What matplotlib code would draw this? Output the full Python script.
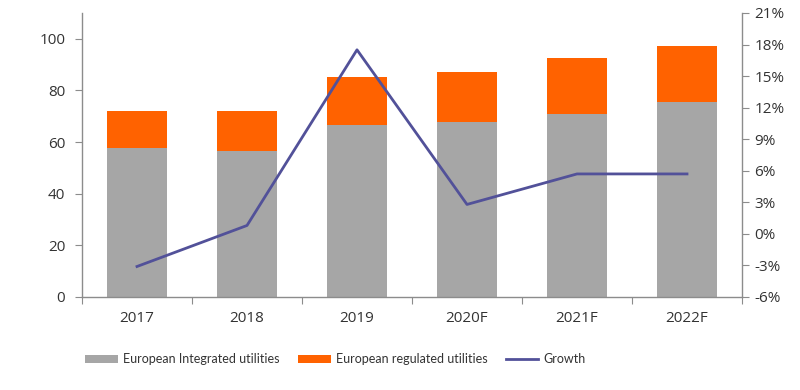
"""European utilities: integrated vs regulated, with growth line."""

import matplotlib

matplotlib.use("Agg")
import matplotlib.pyplot as plt
from matplotlib.ticker import FixedLocator, FuncFormatter

YEARS = ["2017", "2018", "2019", "2020F", "2021F", "2022F"]
INTEGRATED = [57.7, 56.6, 66.7, 67.7, 71.0, 75.6]
REGULATED = [14.5, 15.6, 18.7, 19.6, 21.5, 21.8]
GROWTH = [-3.1, 0.8, 17.5, 2.8, 5.7, 5.7]

GREY = "#A6A6A6"
ORANGE = "#FF6200"
INDIGO = "#525199"
SPINE = "#8C8C8C"
TEXT = "#333333"

plt.rcParams["font.family"] = ["Open Sans", "DejaVu Sans"]

fig = plt.figure(figsize=(8, 3.9), dpi=100)
ax = fig.add_axes([82 / 800, 1 - 297 / 390, (742 - 82) / 800, (297 - 13) / 390])
x = list(range(len(YEARS)))

b1 = ax.bar(x, INTEGRATED, width=0.545, color=GREY, label="European Integrated utilities")
b2 = ax.bar(x, REGULATED, width=0.545, bottom=INTEGRATED, color=ORANGE,
            label="European regulated utilities")

ax.set_xlim(-0.5, len(YEARS) - 0.5)
ax.set_ylim(0, 110)
ax.set_yticks(range(0, 101, 20))
ax.xaxis.set_major_locator(FixedLocator([i - 0.5 for i in range(len(YEARS) + 1)]))
ax.xaxis.set_major_formatter(FuncFormatter(lambda v, p: ""))
ax.set_xticks(x, YEARS, minor=True)
ax.tick_params(axis="x", which="minor", length=0, pad=10, labelsize=11, labelcolor=TEXT)
ax.tick_params(axis="x", which="major", length=5, color=SPINE)
ax.tick_params(axis="y", length=5, color=SPINE, labelsize=11, labelcolor=TEXT, pad=7)

ax2 = ax.twinx()
ln, = ax2.plot(x, GROWTH, color=INDIGO, linewidth=2.0, label="Growth")
ax2.set_ylim(-6, 21)
ax2.set_yticks(range(-6, 22, 3))
ax2.yaxis.set_major_formatter(FuncFormatter(lambda v, p: f"{v:.0f}%"))
ax2.tick_params(axis="y", length=5, color=SPINE, labelsize=11, labelcolor=TEXT, pad=4)

for a in (ax, ax2):
    a.spines["top"].set_visible(False)
    for s in ("left", "right", "bottom"):
        a.spines[s].set_color(SPINE)
        a.spines[s].set_linewidth(1.0)
ax.spines["right"].set_visible(False)
ax2.spines["left"].set_visible(False)
ax2.spines["bottom"].set_visible(False)

fig.legend(
    [b1, b2, ln],
    ["European Integrated utilities", "European regulated utilities", "Growth"],
    loc="center left",
    bbox_to_anchor=(74 / 800, 1 - 359 / 390),
    ncol=3,
    frameon=False,
    prop={"family": ["Lato", "Open Sans"], "size": 9},
    handlelength=2.6,
    handleheight=0.6,
    columnspacing=1.5,
    handletextpad=0.4,
    labelcolor=TEXT,
)

fig.savefig("out.png", dpi=100, facecolor="white")
